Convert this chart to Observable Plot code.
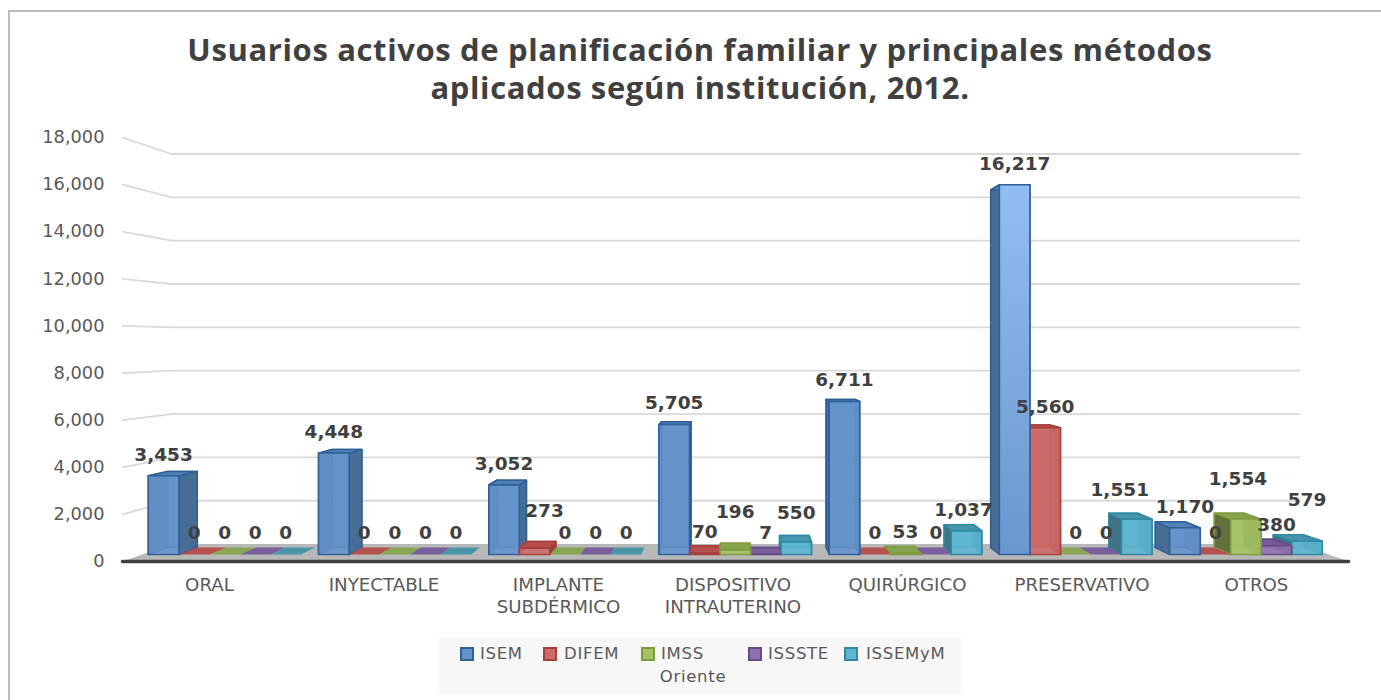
<!DOCTYPE html>
<html lang="es">
<head>
<meta charset="utf-8">
<script src="https://cdn.jsdelivr.net/npm/d3@7"></script>
<script src="https://cdn.jsdelivr.net/npm/@observablehq/plot@0.6"></script>
<style>
html,body{margin:0;padding:0;background:#fff;width:1381px;height:700px;overflow:hidden}
#frame{position:absolute;left:8px;top:10px;width:1400px;height:720px;border:2px solid #bdbdbd;box-sizing:border-box}
#title{position:absolute;left:0;top:30px;width:1400px;text-align:center;font:700 31px/38px "Open Sans",sans-serif;color:#404040;letter-spacing:.63px}
#chart{position:absolute;left:0;top:110px}
#legend{position:absolute;left:439px;top:637px;width:522px;height:57px;background:#f7f7f7;font:16.5px "DejaVu Sans",sans-serif;color:#595959;letter-spacing:.7px}
#legend i{position:absolute;top:10px;width:10px;height:10px;border:2px solid;display:block}
#legend span{position:absolute;top:7px;line-height:20px;white-space:nowrap}
</style>
</head>
<body>
<div id="frame"></div>
<div id="title">Usuarios activos de planificación familiar y principales métodos<br>aplicados según institución, 2012.</div>
<div id="chart"></div>
<div id="legend"></div>
<script>
const categories = ["ORAL","INYECTABLE","IMPLANTE\nSUBDÉRMICO","DISPOSITIVO\nINTRAUTERINO","QUIRÚRGICO","PRESERVATIVO","OTROS"];
const series = ["ISEM","DIFEM","IMSS","ISSSTE","ISSEMyM"];
const ISEM    = [3453,4448,3052,5705,6711,16217,1170];
const DIFEM   = [0,0,273,70,0,5560,0];
const IMSS    = [0,0,0,196,53,0,1554];
const ISSSTE  = [0,0,0,7,0,0,380];
const ISSEMyM = [0,0,0,550,1037,1551,579];
const values = [ISEM,DIFEM,IMSS,ISSSTE,ISSEMyM];
const yTicks = d3.range(0,18001,2000);

const palette = {
  ISEM:    {front:"#6492cb",side:"#466a93",top:"#4f7fb5",edge:"#2f6098"},
  DIFEM:   {front:"#cc6b69",side:"#94403e",top:"#b34c49",edge:"#a83f3c"},
  IMSS:    {front:"#a5c365",side:"#5f6c3c",top:"#85a34c",edge:"#7f9c3f"},
  ISSSTE:  {front:"#8f72b0",side:"#5f4a80",top:"#77599a",edge:"#664a88"},
  ISSEMyM: {front:"#5cb6d0",side:"#3d6f80",top:"#4592a8",edge:"#3189a3"}
};

// 3D perspective, expressed in the chart's own data units
const vanishX = 3, vanishV = 9250, shrink = 0.08;
const project = (x,v,t) => {
  const s = 1 - shrink*t;
  return {x: vanishX + (x-vanishX)*s, y: vanishV + (v-vanishV)*s};
};
const tFront = 0.4, tBack = 0.8, barW = 0.18, xMin = -0.5, xMax = 6.5;
const barCenter = k => k*1.00405 - 0.0135;
const labelCenter = k => k*0.9963 - 0.0033;

const faces = [], fronts = [], glow = [], labels = [];
const addFace = (list,id,corners,style) => corners.forEach(([x,v,t]) => list.push({id,...project(x,v,t),...style}));
const shifts = {"2|1":[10,-16],"3|2":[0,-17],"3|4":[0,-8],"4|4":[-3,0],"5|4":[-17,-8],"6|2":[-8,-19],"6|4":[0,-20]};

const bars = [];
values.forEach((vals,j) => vals.forEach((v,k) => bars.push({v,k,j,s:series[j]})));
bars.map(b => ({...b, x0:barCenter(b.k)+(b.j-2.5)*barW, x1:barCenter(b.k)+(b.j-1.5)*barW}))
  .sort((a,b) => Math.abs((b.x0+b.x1)/2-vanishX) - Math.abs((a.x0+a.x1)/2-vanishX))
  .forEach(b => {
    const {v,k,j,x0,x1} = b, c = palette[b.s], id = `${k}-${j}`;
    const back = {fill:c.side,stroke:c.edge};
    if (v>0) {
      addFace(faces,id+"b",[[x0,0,tBack],[x1,0,tBack],[x1,v,tBack],[x0,v,tBack]],{fill:c.front,stroke:c.edge});
      addFace(faces,id+"l",[[x0,0,tFront],[x0,0,tBack],[x0,v,tBack],[x0,v,tFront]],back);
      addFace(faces,id+"r",[[x1,0,tFront],[x1,0,tBack],[x1,v,tBack],[x1,v,tFront]],back);
    }
    addFace(faces,id+"t",[[x0,v,tFront],[x1,v,tFront],[x1,v,tBack],[x0,v,tBack]],{fill:c.top,stroke:v>0?c.edge:"none"});
    if (v>0) addFace(v===d3.max(ISEM)?glow:fronts,id+"f",[[x0,0,tFront],[x1,0,tFront],[x1,v,tFront],[x0,v,tFront]],{fill:c.front,stroke:c.edge});
    labels.push({...project((x0+x1)/2,v,tFront),text:d3.format(",")(v),shift:shifts[`${k}|${j}`]||[0,0]});
  });

const floor = [[xMin,0,0],[xMax,0,0],[xMax,0,1],[xMin,0,1]].map(([x,v,t])=>project(x,v,t));
const axisLine = [[xMin,0],[xMax,0]].map(([x,y])=>({x,y}));
const grid = yTicks.filter(v=>v>0).flatMap(v=>[[xMin,0],[xMin,1],[xMax,1]].map(([x,t])=>({v,...project(x,v,t)})));

const gradient = () => {
  const defs = d3.create("svg:defs");
  const g = defs.append("linearGradient").attr("id","glow").attr("x1",0).attr("x2",0).attr("y1",0).attr("y2",1);
  g.append("stop").attr("offset","0").attr("stop-color","#93bdf2");
  g.append("stop").attr("offset","1").attr("stop-color","#6a97d0");
  return defs.node();
};

const chart = Plot.plot({
  width:1381, height:520,
  marginTop:27, marginBottom:69, marginLeft:122, marginRight:33,
  style:{background:"transparent",fontFamily:"'DejaVu Sans',sans-serif",overflow:"visible"},
  x:{domain:[xMin,xMax],axis:null},
  y:{domain:[0,18000],axis:null},
  color:{type:"identity"},
  marks:[
    gradient,
    Plot.line(grid,{x:"x",y:"y",z:"v",stroke:"#d9d9d9",strokeWidth:1.8}),
    Plot.line(floor,{x:"x",y:"y",fill:"#b8b8b8",stroke:"none",curve:"linear-closed"}),
    Plot.line(faces,{x:"x",y:"y",z:"id",fill:"fill",stroke:"stroke",strokeWidth:1.5,fillOpacity:.95,curve:"linear-closed"}),
    Plot.line(fronts,{x:"x",y:"y",z:"id",fill:"fill",stroke:"stroke",strokeWidth:1.5,fillOpacity:.88,curve:"linear-closed"}),
    Plot.line(glow,{x:"x",y:"y",z:"id",fill:"url(#glow)",stroke:"stroke",strokeWidth:1.5,curve:"linear-closed"}),
    Plot.line(axisLine,{x:"x",y:"y",stroke:"#404040",strokeWidth:3.5}),
    Plot.axisY({ticks:yTicks,tickSize:0,tickPadding:18,tickFormat:d3.format(","),fontSize:17.8,fill:"#595959",anchor:"left",label:null}),
    Plot.axisX({ticks:categories.map((_,i)=>labelCenter(i)),tickSize:0,tickPadding:14,tickFormat:x=>categories[Math.round(x)],fontSize:18.2,fill:"#595959",lineHeight:1.21,lineAnchor:"top",anchor:"bottom",label:null}),
    ...labels.map(d => Plot.text([d],{x:"x",y:"y",text:"text",dy:-21+d.shift[1],dx:d.shift[0],fontSize:18.5,fontWeight:700,fill:"#404040"}))
  ]
});
document.getElementById("chart").append(chart);

const swatchLeft = [21,104,202,309,405], textLeft = [41,125,222,329,427];
const lg = document.getElementById("legend");
series.forEach((s,i)=>{
  const c = palette[s];
  const sw = document.createElement("i");
  sw.style.cssText = `left:${swatchLeft[i]}px;background:${c.front};border-color:${c.edge}`;
  const t = document.createElement("span");
  t.style.left = textLeft[i]+"px"; t.textContent = s;
  lg.append(sw,t);
});
const ori = document.createElement("span");
ori.style.cssText = "left:0;width:508px;text-align:center;top:30px";
ori.textContent = "Oriente";
lg.append(ori);
</script>
</body>
</html>
